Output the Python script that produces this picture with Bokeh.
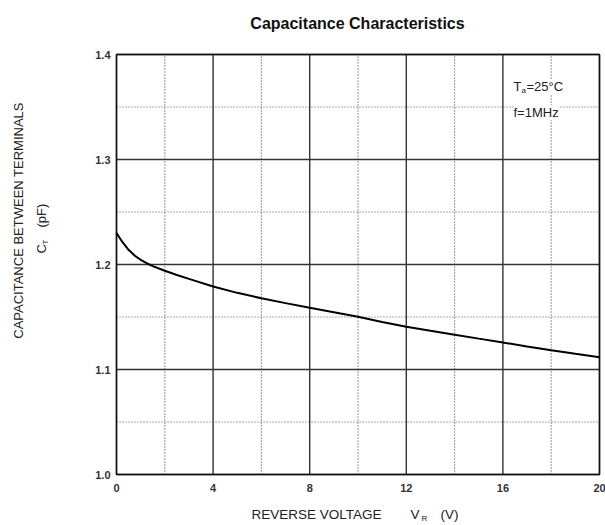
import math
from bokeh.plotting import figure
from bokeh.models import Range1d, Label
from bokeh.embed import file_html
from bokeh.resources import INLINE

# ---- data ----
voltage = [0, 0.25, 0.5, 0.75, 1.0, 1.25, 1.5, 2, 2.5, 3, 4, 5, 6, 7, 8, 9, 10,
           11, 12, 13, 14, 15, 16, 17, 18, 19, 20]
capacitance = [1.230, 1.2212, 1.214, 1.2085, 1.2045, 1.2012, 1.1985, 1.1940,
               1.1900, 1.1863, 1.1790, 1.1730, 1.1678, 1.1632, 1.1588, 1.1545,
               1.1502, 1.1453, 1.1407, 1.1368, 1.1332, 1.1294, 1.1257, 1.1220,
               1.1184, 1.1150, 1.1117]
x_major = [0, 4, 8, 12, 16, 20]
x_minor = [2, 6, 10, 14, 18]
y_major = [1.0, 1.1, 1.2, 1.3, 1.4]
y_minor = [1.05, 1.15, 1.25, 1.35]
x_tick_labels = ["0", "4", "8", "12", "16", "20"]
y_tick_labels = ["1.0", "1.1", "1.2", "1.3", "1.4"]

FONT = "Liberation Sans"
W, H = 605, 525
FL, FR, FT, FB = 116, 599, 54, 474  # chart box edges in px

X0, X1 = x_major[0], x_major[-1]
Y0, Y1 = y_major[0], y_major[-1]


# helpers: screen px -> data
def dx(px):
    return X0 + (px - FL) * (X1 - X0) / (FR - FL)


def dy(py):
    return Y0 + (FB - py) * (Y1 - Y0) / (FB - FT)


p = figure(width=W, height=H, output_backend="svg", toolbar_location=None,
           x_range=Range1d(dx(0), dx(W)), y_range=Range1d(dy(H), dy(0)),
           x_axis_type=None, y_axis_type=None,
           min_border=0, min_border_left=0, min_border_right=0,
           min_border_top=0, min_border_bottom=0)
p.background_fill_color = "white"
p.border_fill_color = "white"
p.outline_line_color = None
p.grid.visible = False

# minor (dotted) grid
p.segment(x0=x_minor, y0=[Y0] * len(x_minor), x1=x_minor, y1=[Y1] * len(x_minor),
          line_color="#555555", line_width=1.2, line_dash="1 2")
p.segment(x0=[X0] * len(y_minor), y0=y_minor, x1=[X1] * len(y_minor), y1=y_minor,
          line_color="#555555", line_width=1.2, line_dash="1 2")
# major (solid) grid
p.segment(x0=x_major, y0=[Y0] * len(x_major), x1=x_major, y1=[Y1] * len(x_major),
          line_color="#333333", line_width=1.4)
p.segment(x0=[X0] * len(y_major), y0=y_major, x1=[X1] * len(y_major), y1=y_major,
          line_color="#333333", line_width=1.4)
# frame
p.quad(left=[X0], right=[X1], bottom=[Y0], top=[Y1], fill_color=None,
       line_color="#111111", line_width=1.5)

# tick labels
p.text(x=x_major, y=[Y0] * len(x_major), text=x_tick_labels,
       text_align="center", text_baseline="top", y_offset=9,
       text_font={"value": FONT}, text_font_size={"value": "11px"},
       text_font_style="bold", text_color="#333333")
p.text(x=[X0] * len(y_major), y=y_major, text=y_tick_labels,
       text_align="right", text_baseline="middle", x_offset=-6,
       text_font={"value": FONT}, text_font_size={"value": "11px"},
       text_font_style="bold", text_color="#333333")

# curve
p.line(voltage, capacitance, line_color="black", line_width=2)


def lab(px, py, text, size, align="left", baseline="alphabetic", angle=0.0,
        style="normal", color="#222222", bg=None):
    kw = {}
    if bg:
        kw = dict(background_fill_color=bg)
    p.add_layout(Label(x=dx(px), y=dy(py), text=text, text_font=FONT,
                       text_font_size=f"{size}px", text_align=align,
                       text_baseline=baseline, angle=angle,
                       text_font_style=style, text_color=color, **kw))


# title
lab(357, 23, "Capacitance Characteristics", 16, align="center", style="bold",
    color="#111111")

# x axis label
lab(251, 514, "REVERSE VOLTAGE", 13.5)
lab(410, 514, "V", 13.5)
lab(421, 518, "R", 8)
lab(440, 514, "(V)", 13.5)

# y axis label (rotated)
lab(18, 220, "CAPACITANCE BETWEEN TERMINALS", 13, align="center",
    angle=math.pi / 2)
lab(41, 253, "C", 13, angle=math.pi / 2)
lab(45, 244, "T", 8, angle=math.pi / 2)
lab(41, 227, "(pF)", 13, angle=math.pi / 2)

# conditions
lab(513, 86, "T", 13, bg="white")
lab(521, 90, "a", 8, bg="white")
lab(526, 86, "=25°C", 13, bg="white")
lab(513, 112, "f=1MHz", 13, bg="white")

open("out.html", "w").write(file_html(p, INLINE))
